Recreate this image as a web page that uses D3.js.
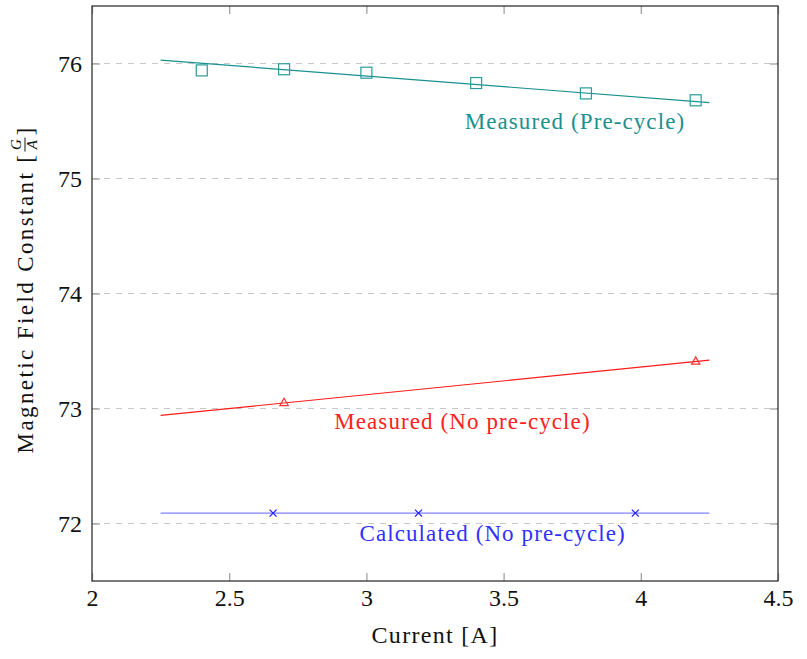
<!DOCTYPE html>
<html>
<head>
<meta charset="utf-8">
<script src="https://cdn.jsdelivr.net/npm/d3@7"></script>
<style>
  body { margin: 0; background: #fff; }
  text { font-family: "Liberation Serif", "DejaVu Serif", serif; }
</style>
</head>
<body>
<div id="vis"></div>
<script>
// chart data
const xTicks = [2, 2.5, 3, 3.5, 4, 4.5];
const yTicks = [72, 73, 74, 75, 76];

const preX = [2.4, 2.7, 3.0, 3.4, 3.8, 4.2];
const preY = [75.94, 75.95, 75.92, 75.83, 75.74, 75.68];
const preFitX = [2.25, 4.25];
const preFitY = [76.03, 75.66];

const noPreX = [2.7, 4.2];
const noPreY = [73.05, 73.41];
const noPreFitX = [2.25, 4.25];
const noPreFitY = [72.94, 73.42];

const calcX = [2.66, 3.19, 3.98];
const calcY = [72.09, 72.09, 72.09];
const calcFitX = [2.25, 4.25];
const calcFitY = [72.09, 72.09];

const WIDTH = 807, HEIGHT = 659;
const MARGINS = {left: 92, right: 29, top: 6, bottom: 78};
const FRAME_W = WIDTH - MARGINS.left - MARGINS.right;
const FRAME_H = HEIGHT - MARGINS.top - MARGINS.bottom;

const svg = d3.select("#vis").append("svg")
  .attr("width", WIDTH).attr("height", HEIGHT);
const g = svg.append("g")
  .attr("transform", "translate(" + MARGINS.left + "," + MARGINS.top + ")");

const x = d3.scaleLinear().domain([2, 4.5]).range([0, FRAME_W]);
const y = d3.scaleLinear().domain([71.5, 76.5]).range([FRAME_H, 0]);

// grid
g.selectAll(".grid").data(yTicks).enter().append("line")
  .attr("x1", 0).attr("x2", FRAME_W)
  .attr("y1", d => y(d)).attr("y2", d => y(d))
  .attr("stroke", "#c8c8c8").attr("stroke-width", 1)
  .attr("stroke-dasharray", "6,6");

// axes with inward ticks
const tickLen = 8;
const axBottom = g.append("g").attr("transform", "translate(0," + FRAME_H + ")")
  .call(d3.axisBottom(x).tickValues(xTicks).tickSizeInner(-tickLen).tickSizeOuter(0).tickPadding(8).tickFormat(d3.format("")));
const axTop = g.append("g")
  .call(d3.axisTop(x).tickValues(xTicks).tickSizeInner(-tickLen).tickSizeOuter(0).tickFormat(""));
const axLeft = g.append("g")
  .call(d3.axisLeft(y).tickValues(yTicks).tickSizeInner(-tickLen).tickSizeOuter(0).tickPadding(10).tickFormat(d3.format("d")));
const axRight = g.append("g").attr("transform", "translate(" + FRAME_W + ",0)")
  .call(d3.axisRight(y).tickValues(yTicks).tickSizeInner(-tickLen).tickSizeOuter(0).tickFormat(""));

[axBottom, axTop, axLeft, axRight].forEach(a => {
  a.select(".domain").remove();
  a.selectAll(".tick line").attr("stroke", "#9a9a9a").attr("stroke-width", 1.2);
  a.selectAll(".tick text").attr("font-size", 24).attr("fill", "#111")
    .style("font-family", "'Liberation Serif', serif");
});

g.append("rect").attr("width", FRAME_W).attr("height", FRAME_H)
  .attr("fill", "none").attr("stroke", "#333").attr("stroke-width", 1.3);

// series
const line = d3.line().x(d => x(d[0])).y(d => y(d[1]));

function fitLine(xs, ys, color) {
  g.append("path").datum(d3.zip(xs, ys))
    .attr("d", line).attr("fill", "none")
    .attr("stroke", color).attr("stroke-width", 1.2);
}

fitLine(preFitX, preFitY, "#1a9090");
fitLine(noPreFitX, noPreFitY, "#ff1a1a");
fitLine(calcFitX, calcFitY, "#8080ff");

g.selectAll(".sq").data(d3.zip(preX, preY)).enter().append("rect")
  .attr("x", d => x(d[0]) - 5.5).attr("y", d => y(d[1]) - 5.5)
  .attr("width", 11).attr("height", 11)
  .attr("fill", "none").attr("stroke", "#2a9a9a").attr("stroke-width", 1.2);

g.selectAll(".tri").data(d3.zip(noPreX, noPreY)).enter().append("path")
  .attr("transform", d => "translate(" + x(d[0]) + "," + y(d[1]) + ")")
  .attr("d", "M0,-4.5L4.2,2.8L-4.2,2.8Z")
  .attr("fill", "none").attr("stroke", "#ff3030").attr("stroke-width", 1.2);

g.selectAll(".cross").data(d3.zip(calcX, calcY)).enter().append("path")
  .attr("transform", d => "translate(" + x(d[0]) + "," + y(d[1]) + ")")
  .attr("d", "M-3.5,-3.5L3.5,3.5M-3.5,3.5L3.5,-3.5")
  .attr("fill", "none").attr("stroke", "#2020ff").attr("stroke-width", 1.3);

// series labels
const labels = [
  {t: "Measured (Pre-cycle)", x: 3.76, y: 75.48, c: "#1a9090"},
  {t: "Measured (No pre-cycle)", x: 3.35, y: 72.87, c: "#ff2020"},
  {t: "Calculated (No pre-cycle)", x: 3.46, y: 71.89, c: "#3030ff"}
];
g.selectAll(".lbl").data(labels).enter().append("text")
  .attr("x", d => x(d.x)).attr("y", d => y(d.y))
  .attr("text-anchor", "middle").attr("dominant-baseline", "middle")
  .attr("font-size", 23).attr("letter-spacing", 1.1)
  .attr("fill", d => d.c).text(d => d.t);

// axis titles
svg.append("text").attr("x", MARGINS.left + x(3.25)).attr("y", 643)
  .attr("text-anchor", "middle").attr("font-size", 24).attr("letter-spacing", 1.3)
  .attr("fill", "#111").text("Current [A]");

const yl = svg.append("g").attr("transform", "translate(33,291) rotate(-90)");
const main = yl.append("text").attr("font-size", 23).attr("letter-spacing", 2.4)
  .attr("fill", "#111").text("Magnetic Field Constant [");
const mainW = main.node().getComputedTextLength();
const fracX = mainW + 1;
yl.append("text").attr("x", fracX + 7).attr("y", -12).attr("text-anchor", "middle")
  .attr("font-size", 15).attr("font-style", "italic").attr("fill", "#111").text("G");
yl.append("line").attr("x1", fracX).attr("x2", fracX + 14)
  .attr("y1", -8).attr("y2", -8).attr("stroke", "#111").attr("stroke-width", 1);
yl.append("text").attr("x", fracX + 7).attr("y", 4).attr("text-anchor", "middle")
  .attr("font-size", 15).attr("font-style", "italic").attr("fill", "#111").text("A");
yl.append("text").attr("x", fracX + 16).attr("font-size", 23).attr("fill", "#111").text("]");
const total = fracX + 23;
yl.selectAll("*").attr("transform", "translate(" + (-total / 2) + ",0)");
</script>
</body>
</html>
